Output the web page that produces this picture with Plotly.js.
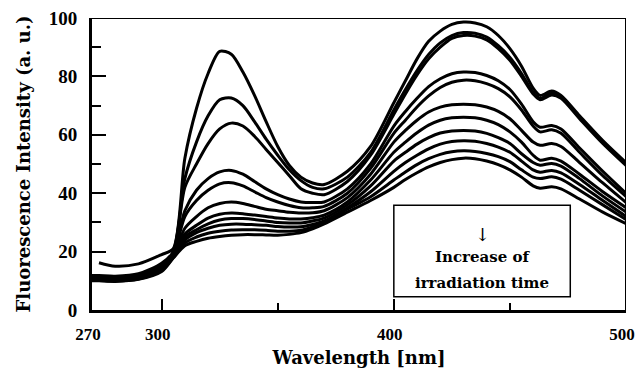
<!DOCTYPE html>
<html>
<head>
<meta charset="utf-8">
<script src="https://cdn.plot.ly/plotly-3.0.1.min.js"></script>
<style>html,body{margin:0;padding:0;background:#fff;}#chart{width:635px;height:369px;}</style>
</head>
<body>
<div id="chart"></div>
<script>
// Wavelength grid (nm)
const wavelength = [270, 273, 280, 290, 300, 305, 310, 315, 320, 325, 330, 335, 340, 345, 350, 355, 360, 365, 370, 380, 390, 400, 405, 410, 415, 420, 425, 430, 435, 440, 445, 450, 455, 460, 463, 468, 472, 480, 490, 502];

// Fluorescence spectra, in order of increasing irradiation time
const spec1  = [null, 16.2, 15.0, 15.8, 19.0, 21.0, 52, 69, 81, 88.6, 87.6, 81.5, 73.5, 64.5, 56, 49.5, 45.5, 43.5, 43, 47.5, 56, 71, 78.5, 86, 92, 95.5, 97.8, 98.6, 98.3, 97, 94, 89.5, 83.5, 76, 73.5, 75, 73.5, 66.5, 58, 49];
const spec2  = [11.8, 11.8, 11.6, 12.4, 16.0, 20.0, 45, 57.5, 66.5, 72, 72.6, 70, 64.5, 58.5, 53, 48, 44.3, 42, 41.5, 45.5, 54, 68.5, 75.5, 82, 87.5, 91.5, 94, 95, 94.8, 93.5, 90.5, 86.5, 81, 74.5, 72.5, 74.2, 73, 66, 57.5, 48.5];
const spec3  = [11.5, 11.5, 11.3, 12.1, 15.6, 19.7, 42, 50, 57, 62, 64, 63, 59.5, 55, 50.5, 46, 41.5, 40, 39.5, 44, 53, 67, 74, 80.5, 86, 90, 93, 94, 93.8, 92.5, 89.5, 85.5, 80, 74, 72, 73.6, 72.5, 65.5, 57, 48];
const spec4  = [11.2, 11.2, 11.0, 11.8, 15.2, 19.4, 34, 41, 45, 47.3, 47.8, 46.5, 44, 41.5, 39.5, 38, 37, 36.8, 37, 41.5, 50, 63, 68, 72.5, 76.5, 79.2, 80.9, 81.5, 81.3, 80.3, 78.5, 75.5, 70.5, 64.5, 62.6, 63.2, 62, 55.5, 47.5, 38.5];
const spec5  = [11.0, 11.0, 10.8, 11.6, 14.9, 19.1, 32, 37.5, 41, 43.2, 43.6, 42.5, 40.5, 38.5, 37, 35.8, 35, 35, 35.5, 40, 48.5, 60.5, 65, 69.5, 73.3, 76.2, 78, 78.7, 78.5, 77.5, 75.8, 73, 68.5, 63, 61, 61.7, 60.5, 54, 46, 37.5];
const spec6  = [10.8, 10.8, 10.6, 11.4, 14.6, 18.8, 28, 32, 35, 36.5, 37, 36.5, 35.5, 34.5, 34, 33.5, 33.2, 33.3, 34, 38.5, 46.5, 57.5, 61.5, 65, 67.8, 69.5, 70.3, 70.5, 70.3, 69.5, 68, 65.5, 61.5, 57.5, 56.4, 57, 56, 50.5, 43.5, 35.5];
const spec7  = [10.6, 10.6, 10.4, 11.2, 14.3, 18.6, 26, 29, 31.5, 32.8, 33.2, 33, 32.5, 32, 31.5, 31.2, 31.2, 31.6, 32.5, 37, 44.5, 54, 57.5, 60.7, 63.3, 65, 65.8, 66, 65.8, 65, 63.5, 61, 57.5, 53, 51.3, 52, 51, 46.5, 40.5, 34];
const spec8  = [10.4, 10.4, 10.2, 11.0, 14.0, 18.4, 25, 27.5, 29.5, 30.8, 31.3, 31.3, 31, 30.5, 30, 29.8, 29.8, 30.5, 31.5, 36, 42.5, 51, 54, 56.8, 59, 60.6, 61.3, 61.5, 61.3, 60.5, 59, 57, 53.5, 50.5, 49.6, 50.2, 49.3, 45, 39, 32.5];
const spec9  = [10.3, 10.3, 10.1, 10.8, 13.8, 18.2, 24, 26.5, 28, 29, 29.4, 29.4, 29.2, 29, 28.6, 28.4, 28.5, 29.3, 30.5, 35, 40.5, 47.5, 50.5, 53, 55.2, 56.8, 57.7, 58, 57.8, 57, 55.8, 54, 51, 48, 47.2, 47.8, 47, 43, 37.5, 31];
const spec10 = [10.1, 10.1, 9.9, 10.6, 13.5, 18.0, 23, 25, 26.3, 27, 27.4, 27.5, 27.5, 27.3, 27, 27, 27.3, 28.5, 30, 34.5, 38.8, 44.5, 47.3, 49.8, 51.8, 53.3, 54.2, 54.5, 54.3, 53.6, 52.5, 50.8, 48, 45.5, 45, 45.6, 44.8, 41, 36, 30];
const spec11 = [10.0, 10.0, 9.8, 10.5, 13.2, 17.8, 22, 23.5, 24.6, 25.2, 25.6, 25.8, 25.8, 25.7, 25.6, 25.9, 26.5, 27.8, 29.5, 33.5, 37.5, 42, 44.7, 47, 49, 50.5, 51.5, 52, 51.8, 51, 49.8, 48, 45.5, 42.5, 41.7, 42.2, 41.5, 38, 33.5, 28.8];

const spectra = [spec1, spec2, spec3, spec4, spec5, spec6, spec7, spec8, spec9, spec10, spec11];

// Axis ticks
const xTickVals = [270, 300, 400, 500];
const xTickText = ['270', '300', '400', '500'];
const xMinorVals = [350, 450];
const yTickVals = [0, 20, 40, 60, 80, 100];

const traces = spectra.map((s, i) => ({
  x: wavelength, y: s, type: 'scatter', mode: 'lines',
  line: {color: '#000', width: 3, shape: 'spline', smoothing: 0.8},
  connectgaps: false, hoverinfo: 'skip', showlegend: false, name: 't' + (i + 1)
}));

const serifB = 'Liberation Serif, Times New Roman, serif';
const titleFont = {family: 'DejaVu Serif, serif', size: 18, color: '#000', weight: 'bold'};

const layout = {
  width: 635, height: 369,
  margin: {l: 92, r: 9, t: 18, b: 59, pad: 0},
  paper_bgcolor: '#fff', plot_bgcolor: '#fff',
  showlegend: false,
  xaxis: {
    range: [270, 500], showgrid: false, zeroline: false,
    showline: true, linecolor: '#000', linewidth: 3,
    tickmode: 'array', tickvals: xTickVals, ticktext: xTickText,
    ticks: 'inside', ticklen: 11, tickwidth: 2, tickcolor: '#000',
    minor: {tickmode: 'array', tickvals: xMinorVals, ticks: 'inside', ticklen: 7, tickwidth: 2, tickcolor: '#000', showgrid: false},
    tickfont: {family: serifB, size: 17, color: '#000', weight: 'bold'},
    ticklabelstandoff: 7, ticklabelshift: -4, ticklabeloverflow: 'allow',
    title: {text: 'Wavelength [nm]', font: titleFont, standoff: 8}
  },
  yaxis: {
    range: [0, 100], showgrid: false, zeroline: false,
    showline: true, linecolor: '#000', linewidth: 3,
    tickmode: 'array', tickvals: yTickVals,
    ticks: 'inside', ticklen: 14, tickwidth: 2, tickcolor: '#000',
    minor: {dtick: 10, ticks: 'inside', ticklen: 9, tickwidth: 2, tickcolor: '#000', showgrid: false},
    tickfont: {family: serifB, size: 19, color: '#000', weight: 'bold'},
    ticklabelstandoff: 8, ticklabeloverflow: 'allow',
    title: {text: 'Fluorescence Intensity (a. u.)', font: titleFont, standoff: 14}
  },
  shapes: [
    {type: 'line', xref: 'x', yref: 'y', x0: 270, x1: 500, y0: 100, y1: 100, line: {color: '#000', width: 2}},
    {type: 'line', xref: 'x', yref: 'y', x0: 500, x1: 500, y0: 0, y1: 100, line: {color: '#000', width: 2}},
    {type: 'rect', xref: 'x', yref: 'y', x0: 400, x1: 476, y0: 4.5, y1: 35.9, line: {color: '#000', width: 1.5}, fillcolor: '#fff', layer: 'above'}
  ],
  annotations: [
    {xref: 'x', yref: 'y', x: 438, y: 26, text: '\u2193', showarrow: false, font: {family: 'DejaVu Serif, serif', size: 18, color: '#000'}, yanchor: 'middle'},
    {xref: 'x', yref: 'y', x: 438, y: 18.0, text: 'Increase of', showarrow: false, font: {family: 'DejaVu Serif, serif', size: 15, color: '#000', weight: 'bold'}, yanchor: 'middle'},
    {xref: 'x', yref: 'y', x: 438, y: 9.3, text: 'irradiation time', showarrow: false, font: {family: 'DejaVu Serif, serif', size: 15, color: '#000', weight: 'bold'}, yanchor: 'middle'}
  ]
};

Plotly.newPlot('chart', traces, layout, {staticPlot: true, displayModeBar: false});
</script>
</body>
</html>
